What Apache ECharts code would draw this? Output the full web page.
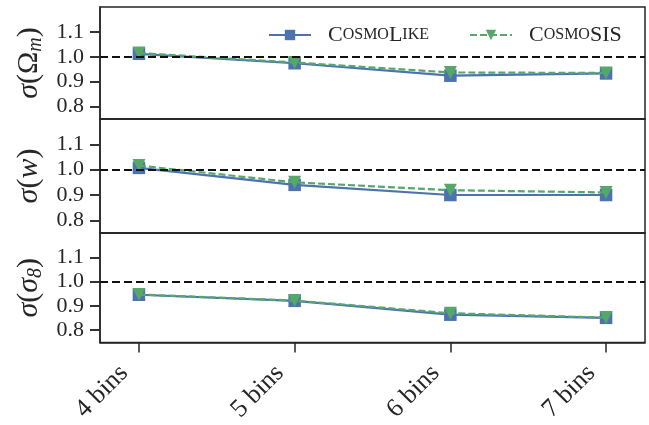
<!DOCTYPE html>
<html><head><meta charset="utf-8">
<script src="https://cdn.jsdelivr.net/npm/echarts@6/dist/echarts.min.js"></script>
<style>html,body{margin:0;padding:0;background:#fff}#c{width:649px;height:425px}</style>
</head><body><div id="c"></div>
<script>
const CATS = ['4 bins', '5 bins', '6 bins', '7 bins'];
const X_POS = [1, 2, 3, 4];
const Y_TICKS = [0.8, 0.9, 1.0, 1.1];
const REF = 1.0;
const OM_LIKE = [1.012, 0.974, 0.924, 0.933];
const OM_SIS  = [1.015, 0.977, 0.937, 0.935];
const W_LIKE  = [1.007, 0.940, 0.900, 0.900];
const W_SIS   = [1.016, 0.950, 0.919, 0.910];
const S8_LIKE = [0.946, 0.921, 0.864, 0.851];
const S8_SIS  = [0.947, 0.922, 0.870, 0.852];
const PANELS = [
  { like: OM_LIKE, sis: OM_SIS, label: '{i|σ}{n|(Ω}{s|m}{n|)}' },
  { like: W_LIKE, sis: W_SIS, label: '{i|σ}{n|(}{i|w}{n|)}' },
  { like: S8_LIKE, sis: S8_SIS, label: '{i|σ}{n|(}{i|σ}{s|8}{n|)}' }
];

const FONT = 'Liberation Serif';
const INK = '#262626';
const TICK_INK = '#333333';
const BLUE = '#4C72B0', GREEN = '#55A868';
const GRIDS = [{top: 7, height: 112}, {top: 119, height: 114}, {top: 233, height: 114}];

const nameRich = {
  i: {fontFamily: FONT, fontStyle: 'italic', fontSize: 30, color: INK, lineHeight: 33},
  n: {fontFamily: FONT, fontSize: 30, color: INK, lineHeight: 33},
  s: {fontFamily: FONT, fontStyle: 'italic', fontSize: 20, color: INK, verticalAlign: 'bottom', lineHeight: 22, padding: [10, 0, 0, 0]}
};

const grid = [], xAxis = [], yAxis = [], series = [];
PANELS.forEach((p, k) => {
  grid.push({left: 100, right: 4, top: GRIDS[k].top, height: GRIDS[k].height,
    show: true, borderColor: INK, borderWidth: 1.5, backgroundColor: 'transparent'});
  const last = k === PANELS.length - 1;
  xAxis.push({type: 'value', gridIndex: k, min: 0.75, max: 4.25, position: 'bottom',
    axisLine: {show: true, lineStyle: {color: INK, width: 1.5}}, splitLine: {show: false},
    axisTick: {show: last, customValues: X_POS, length: 10, lineStyle: {color: INK, width: 1.5}},
    axisLabel: {show: last, customValues: X_POS, rotate: 45, margin: 12, padding: [0, 21, 0, 0],
      fontFamily: FONT, fontSize: 26, color: INK, formatter: v => CATS[X_POS.indexOf(Math.round(v))]}});
  yAxis.push({type: 'value', gridIndex: k, min: 0.75, max: 1.2, position: 'left',
    axisLine: {show: true, lineStyle: {color: INK, width: 1.5}}, splitLine: {show: false},
    axisTick: {show: true, customValues: Y_TICKS, length: 10, alignWithLabel: true,
      lineStyle: {color: TICK_INK, width: 2}},
    axisLabel: {show: true, customValues: Y_TICKS, margin: 16, fontFamily: FONT, fontSize: 22, color: INK,
      formatter: v => v.toFixed(1)},
    name: p.label, nameLocation: 'middle', nameRotate: 90, nameGap: 54,
    nameTextStyle: {rich: nameRich}});
  series.push({name: 'CosmoLike', type: 'line', xAxisIndex: k, yAxisIndex: k, z: 2,
    data: p.like.map((v, i) => [X_POS[i], v]), symbol: 'rect', symbolSize: 12.5,
    itemStyle: {color: BLUE}, lineStyle: {color: BLUE, width: 2.2}, animation: false});
  series.push({name: 'CosmoSIS', type: 'line', xAxisIndex: k, yAxisIndex: k, z: 3,
    data: p.sis.map((v, i) => [X_POS[i], v]), symbol: 'triangle', symbolRotate: 180, symbolSize: 13,
    itemStyle: {color: GREEN}, lineStyle: {color: GREEN, width: 2.2, type: [7, 3]}, animation: false,
    markLine: {silent: true, symbol: 'none', label: {show: false}, animation: false,
      lineStyle: {color: '#111', width: 2, type: [8, 4]}, data: [{yAxis: REF}]}});
});

const legRich = {
  a: {fontFamily: FONT, fontSize: 22, color: INK},
  b: {fontFamily: FONT, fontSize: 16, color: INK}
};
const chart = echarts.init(document.getElementById('c'), null, {renderer: 'canvas'});
chart.setOption({
  backgroundColor: '#fff',
  animation: false,
  grid, xAxis, yAxis, series,
  legend: {left: 263, top: 19, itemWidth: 42, itemHeight: 13, itemGap: 40,
    data: ['CosmoLike', 'CosmoSIS'],
    formatter: n => n === 'CosmoLike' ? '{a|C}{b|OSMO}{a|L}{b|IKE}' : '{a|C}{b|OSMO}{a|SIS}',
    textStyle: {rich: legRich, padding: [0, 0, 0, 12]}}
});
</script></body></html>
